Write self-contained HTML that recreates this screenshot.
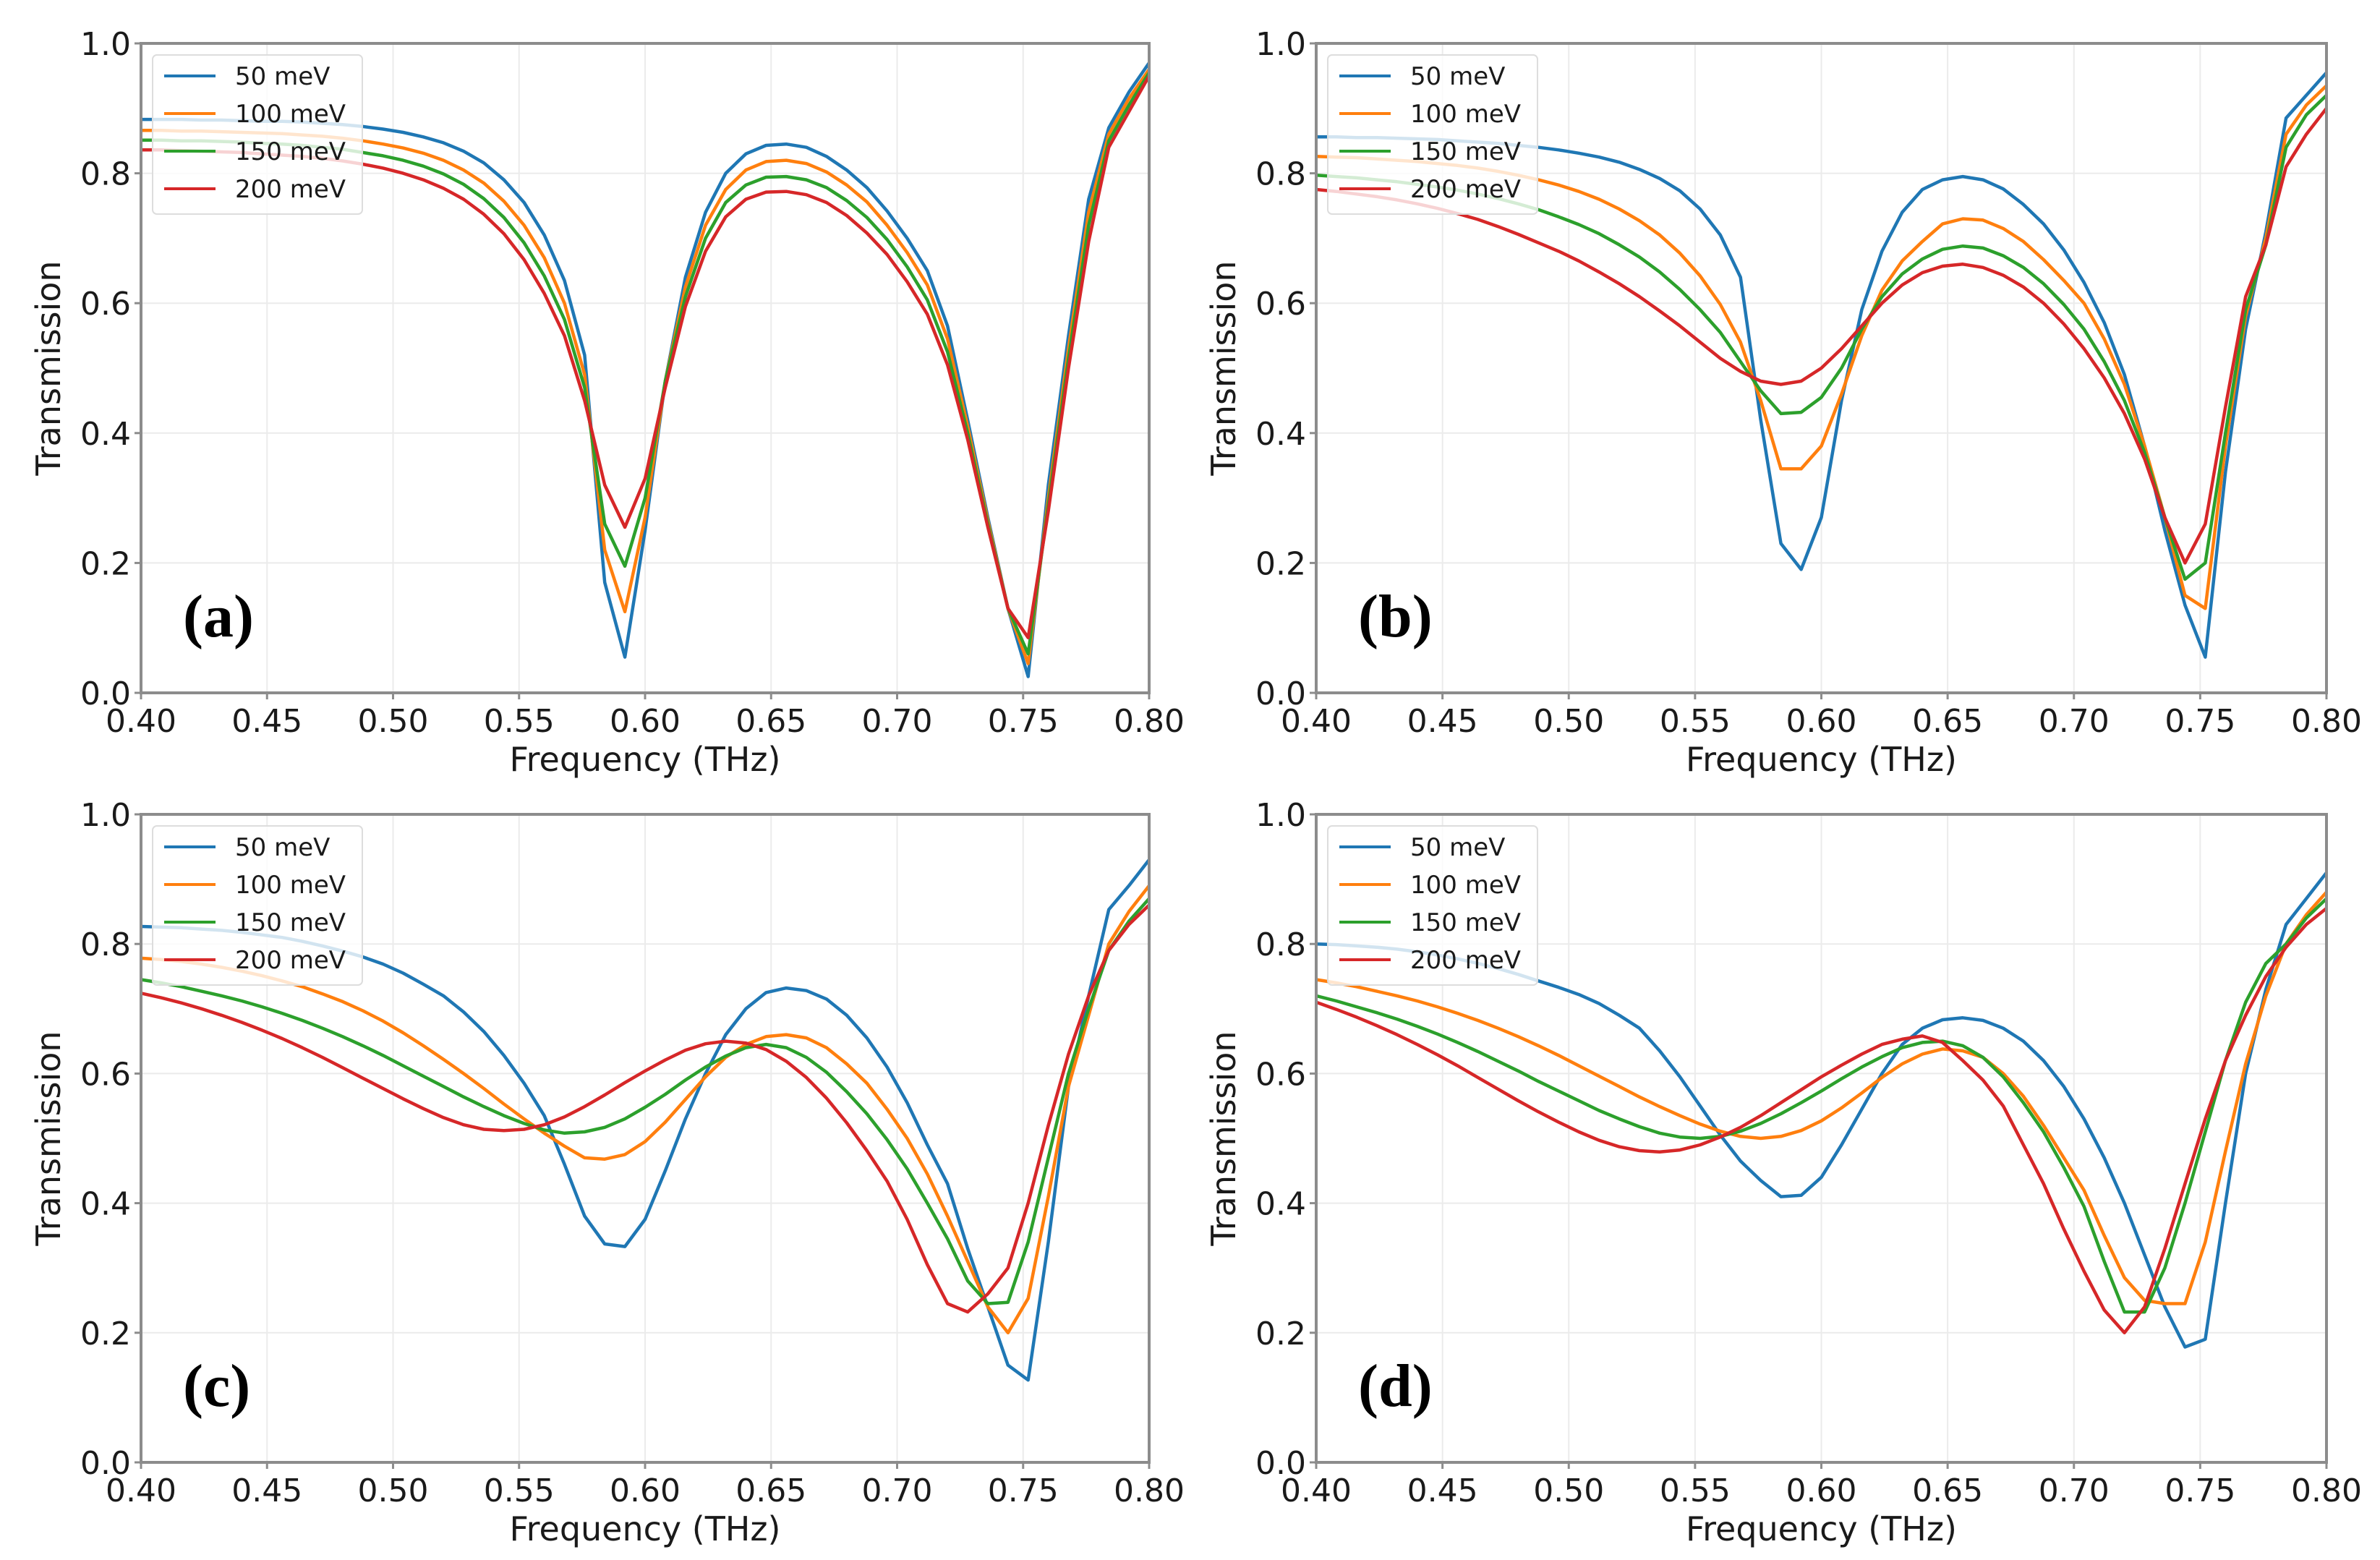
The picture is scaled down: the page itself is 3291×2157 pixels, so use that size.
<!DOCTYPE html>
<html><head><meta charset="utf-8"><style>
html,body{margin:0;padding:0;background:#fff;}
svg{display:block;}
</style></head><body>
<svg id="fig" width="3291" height="2157" viewBox="0 0 3291 2157" xmlns="http://www.w3.org/2000/svg"></svg>
<script>
// shared frequency samples (THz)
const freq = [];
for (let i = 0; i <= 50; i++) freq.push(+(0.4 + i * 0.008).toFixed(3));
const seriesLabels = ["50 meV", "100 meV", "150 meV", "200 meV"];
const xTicks = [0.40, 0.45, 0.50, 0.55, 0.60, 0.65, 0.70, 0.75, 0.80];
const yTicks = [0.0, 0.2, 0.4, 0.6, 0.8, 1.0];

const a50 = [0.883,0.883,0.883,0.882,0.882,0.881,0.880,0.880,0.879,0.877,0.875,0.872,0.868,0.863,0.856,0.847,0.834,0.816,0.790,0.755,0.705,0.635,0.520,0.170,0.055,0.250,0.480,0.640,0.740,0.800,0.830,0.843,0.845,0.840,0.826,0.805,0.778,0.742,0.700,0.650,0.565,0.420,0.270,0.130,0.025,0.320,0.550,0.760,0.870,0.925,0.970];
const a100 = [0.866,0.866,0.865,0.865,0.864,0.863,0.862,0.861,0.859,0.857,0.854,0.850,0.845,0.839,0.831,0.820,0.805,0.785,0.757,0.720,0.670,0.600,0.490,0.220,0.125,0.270,0.480,0.625,0.720,0.775,0.805,0.818,0.820,0.815,0.802,0.782,0.756,0.720,0.678,0.628,0.545,0.410,0.265,0.130,0.045,0.300,0.530,0.740,0.860,0.915,0.960];
const a150 = [0.851,0.851,0.850,0.850,0.849,0.848,0.846,0.845,0.843,0.840,0.837,0.832,0.827,0.820,0.811,0.799,0.783,0.761,0.732,0.693,0.642,0.575,0.470,0.260,0.195,0.300,0.480,0.610,0.700,0.755,0.782,0.794,0.795,0.790,0.778,0.758,0.732,0.698,0.656,0.605,0.525,0.400,0.260,0.130,0.060,0.290,0.515,0.720,0.850,0.905,0.955];
const a200 = [0.836,0.836,0.835,0.834,0.833,0.832,0.830,0.828,0.826,0.823,0.819,0.814,0.808,0.800,0.790,0.777,0.760,0.737,0.707,0.667,0.615,0.550,0.450,0.320,0.255,0.330,0.470,0.595,0.680,0.733,0.760,0.771,0.772,0.767,0.755,0.735,0.708,0.675,0.633,0.583,0.505,0.390,0.255,0.130,0.085,0.280,0.500,0.695,0.840,0.895,0.950];

const b50 = [0.856,0.856,0.855,0.855,0.854,0.853,0.852,0.850,0.848,0.846,0.843,0.840,0.836,0.831,0.825,0.817,0.806,0.792,0.773,0.745,0.705,0.640,0.420,0.230,0.190,0.270,0.450,0.590,0.680,0.740,0.775,0.790,0.795,0.790,0.776,0.752,0.722,0.682,0.632,0.570,0.490,0.380,0.250,0.135,0.055,0.340,0.560,0.710,0.885,0.920,0.955];
const b100 = [0.826,0.825,0.824,0.822,0.820,0.818,0.815,0.812,0.808,0.803,0.797,0.790,0.782,0.772,0.760,0.745,0.727,0.705,0.677,0.642,0.598,0.540,0.450,0.345,0.345,0.380,0.460,0.550,0.620,0.665,0.695,0.722,0.730,0.728,0.715,0.695,0.667,0.635,0.600,0.545,0.475,0.380,0.270,0.150,0.130,0.380,0.580,0.700,0.860,0.905,0.935];
const b150 = [0.797,0.795,0.793,0.790,0.787,0.783,0.779,0.774,0.768,0.761,0.753,0.744,0.733,0.721,0.707,0.690,0.671,0.648,0.621,0.590,0.555,0.510,0.465,0.430,0.432,0.455,0.500,0.560,0.610,0.645,0.668,0.683,0.688,0.685,0.673,0.655,0.630,0.598,0.560,0.510,0.450,0.370,0.270,0.175,0.200,0.400,0.590,0.690,0.840,0.890,0.920];
const b200 = [0.775,0.772,0.768,0.764,0.759,0.753,0.746,0.738,0.729,0.718,0.706,0.693,0.680,0.665,0.648,0.630,0.610,0.588,0.565,0.540,0.515,0.495,0.480,0.475,0.480,0.500,0.530,0.565,0.600,0.628,0.647,0.657,0.660,0.655,0.643,0.625,0.600,0.568,0.530,0.485,0.430,0.360,0.270,0.200,0.260,0.440,0.610,0.690,0.810,0.860,0.900];

const c50 = [0.827,0.826,0.825,0.823,0.821,0.818,0.814,0.810,0.804,0.797,0.789,0.780,0.769,0.755,0.738,0.720,0.695,0.665,0.628,0.585,0.535,0.460,0.380,0.337,0.333,0.375,0.450,0.530,0.600,0.660,0.700,0.725,0.732,0.728,0.715,0.690,0.655,0.610,0.555,0.490,0.430,0.330,0.240,0.150,0.127,0.340,0.580,0.720,0.853,0.890,0.930];
const c100 = [0.778,0.776,0.773,0.769,0.764,0.758,0.751,0.743,0.734,0.723,0.711,0.697,0.681,0.663,0.643,0.622,0.600,0.577,0.553,0.530,0.508,0.488,0.470,0.468,0.475,0.495,0.525,0.560,0.595,0.625,0.645,0.657,0.660,0.655,0.640,0.615,0.585,0.545,0.500,0.445,0.380,0.310,0.240,0.200,0.253,0.410,0.580,0.690,0.800,0.850,0.890];
const c150 = [0.745,0.740,0.734,0.727,0.720,0.712,0.703,0.693,0.682,0.670,0.657,0.643,0.628,0.612,0.596,0.580,0.564,0.549,0.535,0.523,0.513,0.508,0.510,0.517,0.530,0.548,0.568,0.590,0.610,0.627,0.640,0.645,0.640,0.625,0.602,0.572,0.538,0.498,0.453,0.400,0.345,0.280,0.245,0.247,0.340,0.470,0.600,0.700,0.790,0.835,0.870];
const c200 = [0.724,0.717,0.709,0.700,0.690,0.679,0.667,0.654,0.640,0.625,0.609,0.593,0.577,0.561,0.546,0.532,0.521,0.514,0.512,0.514,0.521,0.533,0.549,0.567,0.586,0.604,0.621,0.636,0.646,0.650,0.647,0.637,0.619,0.594,0.562,0.524,0.481,0.434,0.375,0.305,0.245,0.232,0.260,0.300,0.400,0.520,0.630,0.720,0.790,0.830,0.860];

const d50 = [0.800,0.799,0.797,0.795,0.792,0.788,0.783,0.777,0.770,0.762,0.753,0.743,0.733,0.722,0.708,0.690,0.670,0.635,0.595,0.550,0.505,0.465,0.435,0.410,0.412,0.440,0.490,0.545,0.600,0.645,0.670,0.683,0.686,0.682,0.670,0.650,0.620,0.580,0.530,0.470,0.400,0.320,0.240,0.178,0.190,0.400,0.600,0.730,0.830,0.870,0.910];
const d100 = [0.745,0.740,0.734,0.727,0.720,0.712,0.703,0.693,0.682,0.670,0.657,0.643,0.628,0.612,0.596,0.580,0.564,0.549,0.535,0.522,0.511,0.503,0.500,0.503,0.512,0.527,0.547,0.570,0.594,0.615,0.630,0.638,0.635,0.625,0.600,0.565,0.520,0.470,0.420,0.350,0.285,0.250,0.245,0.245,0.340,0.480,0.615,0.720,0.800,0.845,0.880];
const d150 = [0.720,0.712,0.703,0.694,0.684,0.673,0.661,0.648,0.634,0.619,0.604,0.588,0.573,0.558,0.543,0.530,0.518,0.508,0.502,0.500,0.503,0.511,0.523,0.538,0.555,0.573,0.592,0.610,0.626,0.640,0.648,0.650,0.643,0.625,0.595,0.555,0.510,0.455,0.395,0.310,0.232,0.232,0.300,0.400,0.510,0.620,0.710,0.770,0.800,0.840,0.870];
const d200 = [0.710,0.699,0.687,0.674,0.660,0.645,0.629,0.612,0.594,0.576,0.558,0.541,0.525,0.510,0.497,0.487,0.481,0.479,0.482,0.490,0.502,0.517,0.535,0.555,0.575,0.595,0.613,0.630,0.645,0.653,0.658,0.648,0.620,0.590,0.550,0.490,0.430,0.360,0.295,0.235,0.200,0.240,0.330,0.430,0.530,0.620,0.690,0.750,0.795,0.830,0.855];

const panelA = [a50, a100, a150, a200];
const panelB = [b50, b100, b150, b200];
const panelC = [c50, c100, c150, c200];
const panelD = [d50, d100, d150, d200];

const colors = ["#1f77b4", "#ff7f0e", "#2ca02c", "#d62728"];
const NS = "http://www.w3.org/2000/svg";
const svg = document.getElementById("fig");

function mk(tag, attrs, parent) {
  const e = document.createElementNS(NS, tag);
  for (const k in attrs) e.setAttribute(k, attrs[k]);
  (parent || svg).appendChild(e);
  return e;
}

function drawPanel(id, x0, x1, y0, y1, series, letter) {
  const g = mk("g", {});
  
  
  const sx = f => x0 + (f - 0.4) / 0.4 * (x1 - x0);
  const sy = v => y1 - v * (y1 - y0);
  xTicks.forEach(t => {
    const l = mk("line", {x1: sx(t), x2: sx(t), y1: y0, y2: y1, stroke: "#ebebeb", "stroke-width": 2}, g);
    
    
  });
  yTicks.forEach(t => {
    const l = mk("line", {x1: x0, x2: x1, y1: sy(t), y2: sy(t), stroke: "#ebebeb", "stroke-width": 2}, g);
    
    
  });
  series.forEach((vals, k) => {
    const d = vals.map((v, i) => (i ? "L" : "M") + sx(freq[i]).toFixed(1) + " " + sy(v).toFixed(1)).join(" ");
    const p = mk("path", {d: d, fill: "none", stroke: colors[k], "stroke-width": 4.5, "stroke-linejoin": "round"}, g);
    
    
  });
  const fr = mk("rect", {x: x0, y: y0, width: x1 - x0, height: y1 - y0, fill: "none", stroke: "#8c8c8c", "stroke-width": 4}, g);
  
  
  xTicks.forEach(t => {
    mk("line", {x1: sx(t), x2: sx(t), y1: y1, y2: y1 + 9, stroke: "#8c8c8c", "stroke-width": 3}, g);
    const tx = mk("text", {x: sx(t), y: y1 + 54, "text-anchor": "middle", "font-size": 44, "font-family": "DejaVu Sans, Liberation Sans, sans-serif", fill: "#1a1a1a"}, g);
    tx.textContent = t.toFixed(2);
    
    
  });
  yTicks.forEach(t => {
    mk("line", {x1: x0 - 9, x2: x0, y1: sy(t), y2: sy(t), stroke: "#8c8c8c", "stroke-width": 3}, g);
    const tx = mk("text", {x: x0 - 14, y: sy(t) + 16, "text-anchor": "end", "font-size": 44, "font-family": "DejaVu Sans, Liberation Sans, sans-serif", fill: "#1a1a1a"}, g);
    tx.textContent = t.toFixed(1);
    
    
  });
  const xt = mk("text", {x: (x0 + x1) / 2, y: y1 + 108, "text-anchor": "middle", "font-size": 46, "font-family": "DejaVu Sans, Liberation Sans, sans-serif", fill: "#1a1a1a"}, g);
  xt.textContent = "Frequency (THz)";
  
  
  const yc = (y0 + y1) / 2, yx = x0 - 112;
  const yt = mk("text", {x: yx, y: yc, "text-anchor": "middle", "font-size": 46, "font-family": "DejaVu Sans, Liberation Sans, sans-serif", fill: "#1a1a1a", transform: "rotate(-90 " + yx + " " + yc + ")"}, g);
  yt.textContent = "Transmission";
  
  
  const lg = mk("g", {}, g);
  
  
  mk("rect", {x: x0 + 16, y: y0 + 16, width: 290, height: 220, rx: 6, fill: "#fff", "fill-opacity": 0.8, stroke: "#dddddd", "stroke-width": 2}, lg);
  seriesLabels.forEach((s, k) => {
    const ly = y0 + 45 + k * 52;
    const ll = mk("line", {x1: x0 + 32, x2: x0 + 103, y1: ly, y2: ly, stroke: colors[k], "stroke-width": 4}, lg);
    
    
    const lt = mk("text", {x: x0 + 130, y: ly + 12, "font-size": 34, "font-family": "DejaVu Sans, Liberation Sans, sans-serif", fill: "#1a1a1a"}, lg);
    lt.textContent = s;
    
    
  });
  const pl = mk("text", {x: x0 + 58, y: y1 - 78, "font-size": 84, "font-family": "Liberation Serif, serif", "font-weight": "bold", fill: "#000"}, g);
  pl.textContent = "(" + letter + ")";
  
  
}

drawPanel("a", 195, 1589, 60, 958, panelA, "a");
drawPanel("b", 1820, 3217, 60, 958, panelB, "b");
drawPanel("c", 195, 1589, 1126, 2022, panelC, "c");
drawPanel("d", 1820, 3217, 1126, 2022, panelD, "d");
</script>
</body></html>
